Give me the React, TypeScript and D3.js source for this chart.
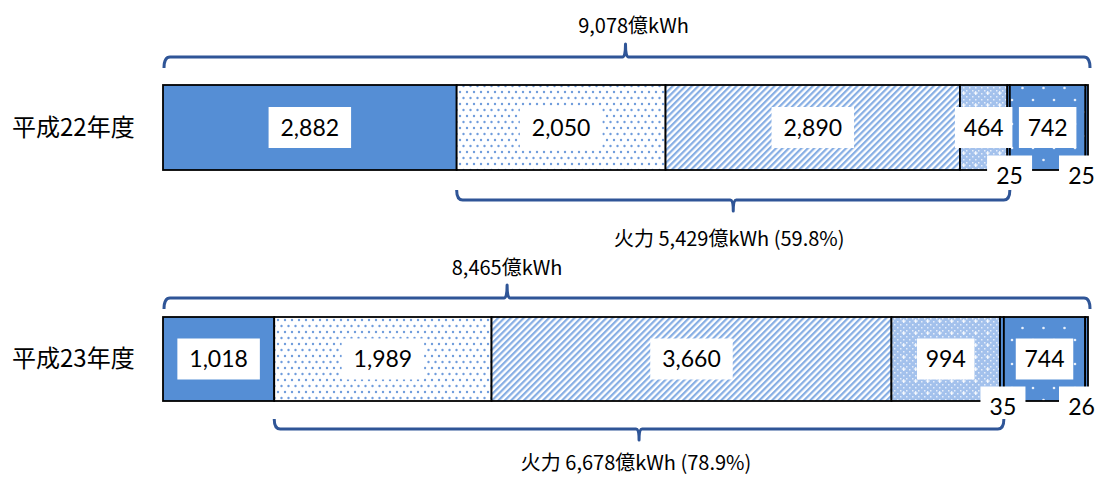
import React from "react";
import * as d3 from "d3";

// ---- data ----
const years = ["平成22年度", "平成23年度"];
const sources = ["原子力", "石炭", "LNG", "石油", "その他火力", "水力", "新エネルギー"];
const valuesH22 = [2882, 2050, 2890, 464, 25, 742, 25];
const valuesH23 = [1018, 1989, 3660, 994, 35, 744, 26];
const totalLabels = ["9,078億kWh", "8,465億kWh"];
const thermalLabels = ["火力 5,429億kWh (59.8%)", "火力 6,678億kWh (78.9%)"];
const thermalFirst = 1;
const thermalLast = 4;
const smallLabelSources = [4, 6]; // labels drawn below the bar

// ---- layout / style ----
const W = 1101;
const H = 477;
const X0 = 163;
const X1 = 1088;
const rows = [
  { top: 85, bottom: 170, topBraceY: 57, topTickFrac: 0.5, totalLabelY: 33, totalLabelDx: 8, botBraceY: 200, thermalLabelY: 246, thermalLabelDx: -4 },
  { top: 317, bottom: 401, topBraceY: 298, topTickFrac: 0.372, totalLabelY: 275, totalLabelDx: 0, botBraceY: 429, thermalLabelY: 470, thermalLabelDx: -3 },
];
const fills = ["#558ED5", "url(#pCoal)", "url(#pLng)", "url(#pOil)", "#558ED5", "url(#pHydro)", "#558ED5"];
const braceColor = "#2F5597";
const cjk = "'Noto Sans CJK JP', 'Noto Sans', sans-serif";
const numFont = "Lato, 'Open Sans', sans-serif";

function topBrace(xa: number, xb: number, y: number, xm: number) {
  const p = d3.path();
  p.moveTo(xa, y + 11);
  p.quadraticCurveTo(xa, y, xa + 6, y);
  p.lineTo(xm - 3, y);
  p.quadraticCurveTo(xm, y, xm, y - 13);
  p.quadraticCurveTo(xm, y, xm + 3, y);
  p.lineTo(xb - 6, y);
  p.quadraticCurveTo(xb, y, xb, y + 11);
  return p.toString();
}
function bottomBrace(xa: number, xb: number, y: number, xm: number) {
  const p = d3.path();
  p.moveTo(xa, y - 10);
  p.quadraticCurveTo(xa, y, xa + 6, y);
  p.lineTo(xm - 3, y);
  p.quadraticCurveTo(xm, y, xm, y + 11);
  p.quadraticCurveTo(xm, y, xm + 3, y);
  p.lineTo(xb - 6, y);
  p.quadraticCurveTo(xb, y, xb, y - 10);
  return p.toString();
}

function Row({ idx, values }: { idx: number; values: number[] }) {
  const r = rows[idx];
  const total = d3.sum(values);
  const x = d3.scaleLinear().domain([0, total]).range([X0, X1]);
  const cum = d3.cumsum(values);
  const starts = values.map((v, i) => cum[i] - v);
  const midY = (r.top + r.bottom) / 2;
  const thermalStart = starts[thermalFirst];
  const thermalEnd = cum[thermalLast];
  const tx0 = x(thermalStart);
  const tx1 = x(thermalEnd);
  const tm = (tx0 + tx1) / 2;
  const topMid = X0 + (X1 - X0) * r.topTickFrac;
  const boxW = (s: string) => s.length * 12.5 + 20;
  return (
    <g>
      <text x={12} y={midY + 8} fontFamily={cjk} fontSize={24} fill="#000">{years[idx]}</text>
      {values.map((v, i) => (
        <rect key={sources[i]} x={x(starts[i])} y={r.top} width={x(cum[i]) - x(starts[i])} height={r.bottom - r.top}
          fill={fills[i]} stroke="#000" strokeWidth={1.8} />
      ))}
      {values.map((v, i) => {
        const s = d3.format(",")(v);
        const w = boxW(s);
        const below = smallLabelSources.includes(i);
        let cx = (x(starts[i]) + x(cum[i])) / 2;
        if (below) cx = Math.min(cx + 1, W - w / 2 + 3);
        const cy = below ? r.bottom + 6 : midY;
        return (
          <g key={"l" + i}>
            <rect x={cx - w / 2} y={cy - 20.5} width={w} height={41} fill="#fff" />
            <text x={cx} y={cy + 8} textAnchor="middle" fontFamily={numFont} fontSize={23} fill="#000">{s}</text>
          </g>
        );
      })}
      <path d={topBrace(X0 + 1, X1 + 2, r.topBraceY, topMid)} fill="none" stroke={braceColor} strokeWidth={3} strokeLinejoin="round" />
      <text x={topMid + r.totalLabelDx} y={r.totalLabelY} textAnchor="middle" fontFamily={cjk} fontSize={20} fill="#000">{totalLabels[idx]}</text>
      <path d={bottomBrace(tx0, tx1, r.botBraceY, tm)} fill="none" stroke={braceColor} strokeWidth={3} strokeLinejoin="round" />
      <text x={tm + r.thermalLabelDx} y={r.thermalLabelY} textAnchor="middle" fontFamily={cjk} fontSize={20} fill="#000">{thermalLabels[idx]}</text>
    </g>
  );
}

export default function App() {
  return (
    <svg width={W} height={H} style={{ position: "absolute", left: 0, top: 0, background: "#fff" }}>
      <defs>
        <pattern id="pCoal" width={7} height={12} patternUnits="userSpaceOnUse">
          <rect width={7} height={12} fill="#fff" />
          <circle cx={1.5} cy={2} r={1.2} fill="#6F9CDC" />
          <circle cx={5} cy={8} r={1.2} fill="#6F9CDC" />
        </pattern>
        <pattern id="pLng" width={4.5} height={10} patternUnits="userSpaceOnUse" patternTransform="rotate(45)">
          <rect width={4.5} height={10} fill="#fff" />
          <rect width={2.2} height={10} fill="#86AEE4" />
        </pattern>
        <pattern id="pOil" width={12} height={12} patternUnits="userSpaceOnUse">
          <rect width={12} height={12} fill="#A3C1EC" />
          <rect x={0} y={0} width={1.5} height={1.5} fill="#E6EEFA" />
          <rect x={3} y={3} width={1.5} height={1.5} fill="#E6EEFA" />
          <rect x={6} y={0} width={1.5} height={1.5} fill="#E6EEFA" />
          <rect x={9} y={3} width={1.5} height={1.5} fill="#E6EEFA" />
          <rect x={0} y={6} width={1.5} height={1.5} fill="#E6EEFA" />
          <rect x={9} y={9} width={1.5} height={1.5} fill="#E6EEFA" />
          <rect x={6} y={6} width={1.5} height={1.5} fill="#E6EEFA" />
          <rect x={3} y={9} width={1.5} height={1.5} fill="#E6EEFA" />
          <path d="M3.75 7 v4 M1.75 9 h4" stroke="#fff" strokeWidth={1} />
        </pattern>
        <pattern id="pHydro" width={21} height={24} patternUnits="userSpaceOnUse">
          <rect width={21} height={24} fill="#558ED5" />
          <circle cx={4} cy={4} r={1.3} fill="#E8F0FB" />
          <circle cx={14.5} cy={16} r={1.3} fill="#E8F0FB" />
        </pattern>
      </defs>
      <Row idx={0} values={valuesH22} />
      <Row idx={1} values={valuesH23} />
    </svg>
  );
}
